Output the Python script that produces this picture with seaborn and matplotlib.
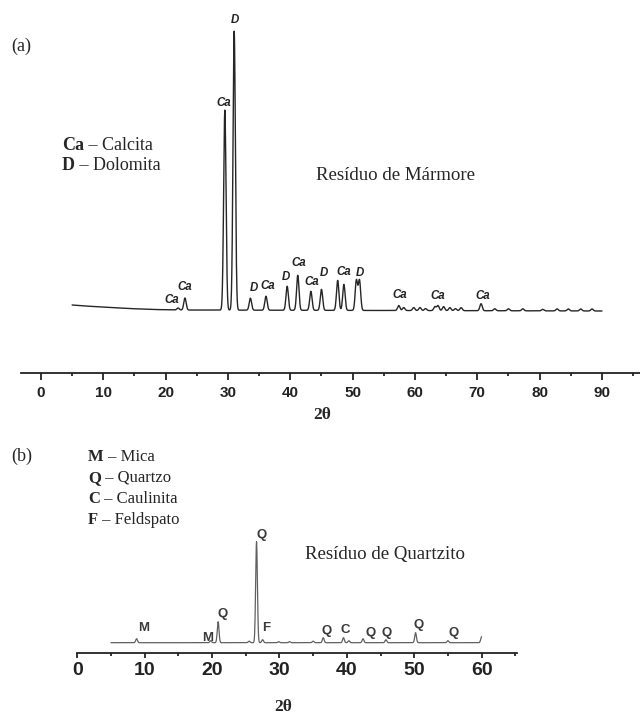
import numpy as np
import pandas as pd
import matplotlib
matplotlib.use("Agg")
import matplotlib.pyplot as plt
from matplotlib.ticker import MultipleLocator
import seaborn as sns

# ---------------- data ----------------
# Panel (a) - Resíduo de Mármore: peak positions (2θ) and relative intensities
peaks_a_pos = [22.0, 23.1, 29.5, 31.0, 33.6, 36.1, 39.5, 41.2, 43.3, 45.0,
               47.6, 48.6, 50.6, 51.1, 57.4, 58.2, 59.8, 60.8, 61.7, 63.2,
               63.7, 64.6, 65.6, 66.5, 67.4, 70.6, 72.8, 75.0, 77.3, 80.5,
               82.8, 84.6, 86.6, 88.4]
peaks_a_int = [2, 12, 200, 279, 12, 14, 24, 35, 19, 21,
               30, 26, 30, 30, 5, 3, 3, 3, 2, 4,
               5, 4, 3, 2, 3, 7, 2, 2, 2, 1.5,
               2, 2, 2, 2]
bg_a_pos = [5, 7, 10, 14, 18, 22, 90]
bg_a_int = [5, 4, 3, 1.5, 0.5, 0, -1]
range_a = [5, 90]

labels_a_text = ["D", "Ca", "Ca", "Ca", "D", "Ca", "D", "Ca", "Ca", "D",
                 "Ca", "D", "Ca", "Ca", "Ca"]
labels_a_x = [31.1, 29.4, 23.1, 21.0, 34.2, 36.4, 39.3, 41.3, 43.5, 45.4,
              48.5, 51.2, 57.6, 63.6, 70.8]
labels_a_y = [290, 207, 23, 10, 22, 24, 33, 47, 28, 37, 38, 37, 15, 14, 14]

# Panel (b) - Resíduo de Quartzito
peaks_b_pos = [8.8, 19.8, 20.9, 25.5, 26.6, 27.5, 29.9, 31.5, 35.0, 36.5,
               39.5, 40.3, 42.4, 45.8, 50.2, 55.0, 60.0]
peaks_b_int = [4, 2, 21, 1.5, 101, 3, 1, 1, 1.5, 5,
               5, 2, 4, 3, 10, 2, 6]
bg_b_pos = [5, 60]
bg_b_int = [0, 0]
range_b = [5, 60]

labels_b_text = ["M", "M", "Q", "Q", "F", "Q", "C", "Q", "Q", "Q", "Q"]
labels_b_x = [9.85, 19.3, 21.5, 27.3, 28.0, 37.0, 39.7, 43.5, 45.9, 50.6, 55.8]
labels_b_y = [15, 5, 29, 108, 15, 12, 13, 10, 10, 18, 10]

ticks_a = list(range(0, 100, 10))
ticks_b = list(range(0, 70, 10))


def pattern(pos, inten, bgx, bgy, xr, width):
    x = np.arange(xr[0], xr[1] + 1e-9, 0.02)
    y = np.interp(x, bgx, bgy)
    for p, h in zip(pos, inten):
        y = y + h * np.exp(-0.5 * ((x - p) / width) ** 2)
    return pd.DataFrame({"2θ": x, "I": y})


df_a = pattern(peaks_a_pos, peaks_a_int, bg_a_pos, bg_a_int, range_a, 0.19)
df_b = pattern(peaks_b_pos, peaks_b_int, bg_b_pos, bg_b_int, range_b, 0.13)

# ---------------- figure ----------------
sns.set_style("white")
plt.rcParams["font.family"] = ["Liberation Serif", "DejaVu Serif"]

W, H = 640, 718
fig = plt.figure(figsize=(W / 100, H / 100), dpi=100)


def fx(px):
    return px / W


def fy(py):
    return 1 - py / H


ax_a = fig.add_axes([fx(21), fy(373), 619 / W, 358 / H])
ax_b = fig.add_axes([fx(77.3), fy(653), 440 / W, 133 / H])

sns.lineplot(data=df_a, x="2θ", y="I", ax=ax_a, color="#262626", linewidth=1.0,
             estimator=None, errorbar=None)
sns.lineplot(data=df_b, x="2θ", y="I", ax=ax_b, color="#606060", linewidth=0.9,
             estimator=None, errorbar=None)

ax_a.set_xlim(-3.2, 96.1)
ax_a.set_ylim(-63, 295)
ax_b.set_xlim(0, 65.3)
ax_b.set_ylim(-10.3, 122.7)

for ax, ticks, fs, maj_len, pad in [(ax_a, ticks_a, 11, 5, 4.5),
                                    (ax_b, ticks_b, 14, 3.5, 3.0)]:
    for s in ["left", "top", "right"]:
        ax.spines[s].set_visible(False)
    ax.spines["bottom"].set_linewidth(1.3)
    ax.spines["bottom"].set_color("#222222")
    ax.set_yticks([])
    ax.set_xticks(ticks)
    ax.xaxis.set_minor_locator(MultipleLocator(5))
    ax.tick_params(axis="x", which="major", direction="out", length=maj_len,
                   width=1.3, color="#222222", pad=pad, bottom=True)
    ax.tick_params(axis="x", which="minor", direction="out", length=2.2,
                   width=1.3, color="#222222", bottom=True)
    for lab in ax.get_xticklabels():
        lab.set_fontfamily("Liberation Sans")
        lab.set_fontweight("bold")
        lab.set_fontsize(fs)
        lab.set_color("#222222")
    ax.set_xlabel("")
    ax.set_ylabel("")
    ax.patch.set_alpha(0)

# peak labels
for t, x, y in zip(labels_a_text, labels_a_x, labels_a_y):
    ax_a.text(x, y, t, ha="center", va="center", fontfamily="Liberation Sans",
              fontstyle="italic", fontweight="bold", fontsize=8.3, color="#222222")
for t, x, y in zip(labels_b_text, labels_b_x, labels_b_y):
    ax_b.text(x, y, t, ha="center", va="center", fontfamily="Liberation Sans",
              fontweight="bold", fontsize=9.5, color="#3a3a3a")

# axis titles
fig.text(fx(322), fy(415), "2θ", ha="center", va="center", fontsize=12.5,
         fontweight="bold", fontfamily=["Liberation Serif", "DejaVu Serif"])
fig.text(fx(283), fy(707), "2θ", ha="center", va="center", fontsize=12.5,
         fontweight="bold", fontfamily=["Liberation Serif", "DejaVu Serif"])

# panel tags and titles
fig.text(fx(11), fy(46), "(a)", ha="left", va="center", fontsize=13)
fig.text(fx(11), fy(456), "(b)", ha="left", va="center", fontsize=13)
fig.text(fx(316), fy(175), "Resíduo de Mármore", ha="left", va="center", fontsize=13.6)
fig.text(fx(305), fy(555), "Resíduo de Quartzito", ha="left", va="center", fontsize=13.6)

# legends (bold symbol + normal description)
fig.canvas.draw()
renderer = fig.canvas.get_renderer()


def legend_line(px, py, sym, desc, fs):
    t = fig.text(fx(px), fy(py), sym, ha="left", va="center", fontsize=fs,
                 fontweight="bold")
    bb = t.get_window_extent(renderer)
    fig.text(bb.x1 / W, fy(py), " – " + desc, ha="left", va="center", fontsize=fs)


legend_line(62, 146, "Ca", "Calcita", 13)
legend_line(62, 165, "D", "Dolomita", 13)
legend_line(88, 457, "M", "Mica", 12)
legend_line(88, 478, "Q", "Quartzo", 12)
legend_line(88, 499, "C", "Caulinita", 12)
legend_line(88, 520, "F", "Feldspato", 12)

fig.savefig("out.png", dpi=100)
